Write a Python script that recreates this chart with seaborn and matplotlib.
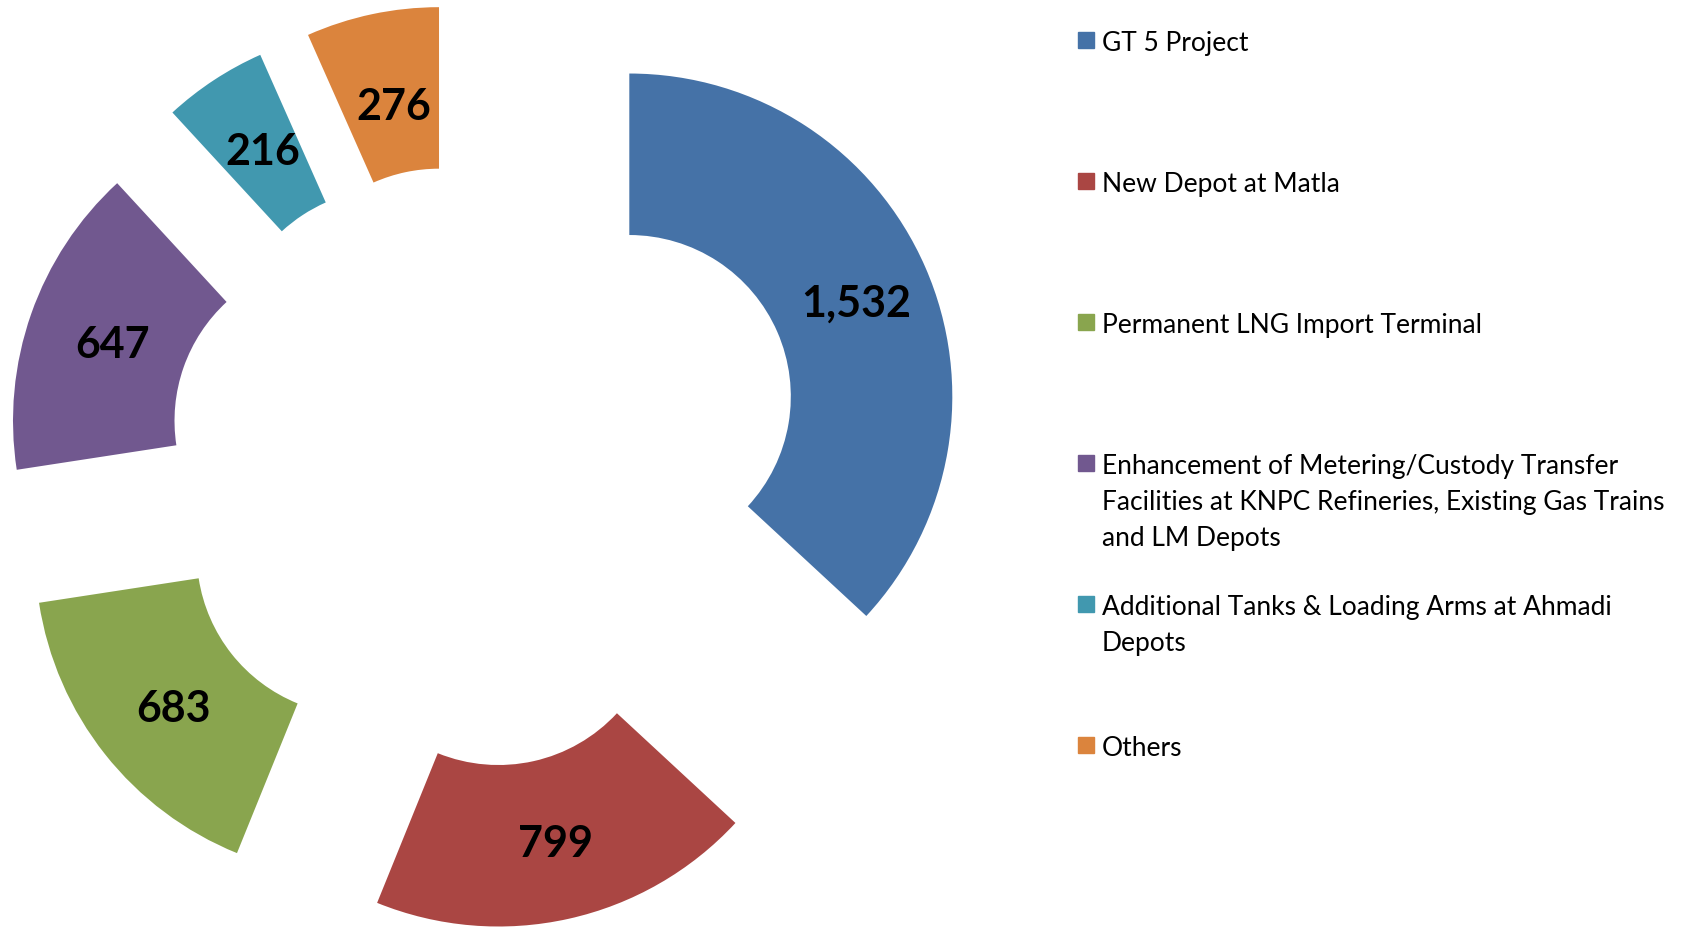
import matplotlib
matplotlib.use("Agg")
import matplotlib.pyplot as plt
import seaborn as sns
import numpy as np
from matplotlib.patches import Rectangle

# data
projects = [
    "GT 5 Project",
    "New Depot at Matla",
    "Permanent LNG Import Terminal",
    "Enhancement of Metering/Custody Transfer\nFacilities at KNPC Refineries, Existing Gas Trains\nand LM Depots",
    "Additional Tanks & Loading Arms at Ahmadi\nDepots",
    "Others",
]
values = [1532, 799, 683, 647, 216, 276]
explode = [0.545, 0.433, 0.433, 0.433, 0.433, 0.433]
colors = ["#4572A7", "#AA4643", "#89A54E", "#71588F", "#4198AF", "#DB843D"]

sns.set_theme(style="white")
plt.rcParams["font.family"] = ["Lato", "DejaVu Sans"]

W, H = 1686, 928
fig = plt.figure(figsize=(W / 100, H / 100), dpi=100)

# square axes for the doughnut, 1 data unit = 323 px
side = 936
half = side / 2 / 323
ax = fig.add_axes([0, -8 / H, side / W, side / H])

wedges, _, autotexts = ax.pie(
    values,
    colors=colors,
    explode=explode,
    startangle=90,
    counterclock=False,
    radius=1.0,
    wedgeprops=dict(width=0.5, linewidth=0),
    autopct=lambda p: "",
    pctdistance=0.75,
    frame=True,
)
for t, v in zip(autotexts, values):
    t.set_text(f"{v:,}")
    t.set_fontsize(31)
    t.set_fontweight("bold")
    t.set_color("black")
    t.set_va("center_baseline")
    # Excel sits the labels a touch right of the ring's middle
    x, y = t.get_position()
    t.set_position((x + 0.015, y - (0.03 if v == 276 else 0.0)))
ax.set_xlim(-half, half)
ax.set_ylim(-half, half)
ax.axis("off")

# legend drawn by hand so the marker sits on the first line of wrapped labels
x_box, x_txt = 1078, 1102
y0, step, box, line_h = 41, 141, 16, 36
for i, (label, c) in enumerate(zip(projects, colors)):
    yc = y0 + i * step
    fig.patches.append(Rectangle((x_box / W, 1 - (yc + box / 2) / H), box / W, box / H,
                                 transform=fig.transFigure, color=c, figure=fig))
    for k, line in enumerate(label.split("\n")):
        fig.text(x_txt / W, 1 - (yc + k * line_h) / H, line, fontsize=19,
                 va="center_baseline", ha="left", color="black")

fig.savefig("out.png", dpi=100, facecolor="white")
